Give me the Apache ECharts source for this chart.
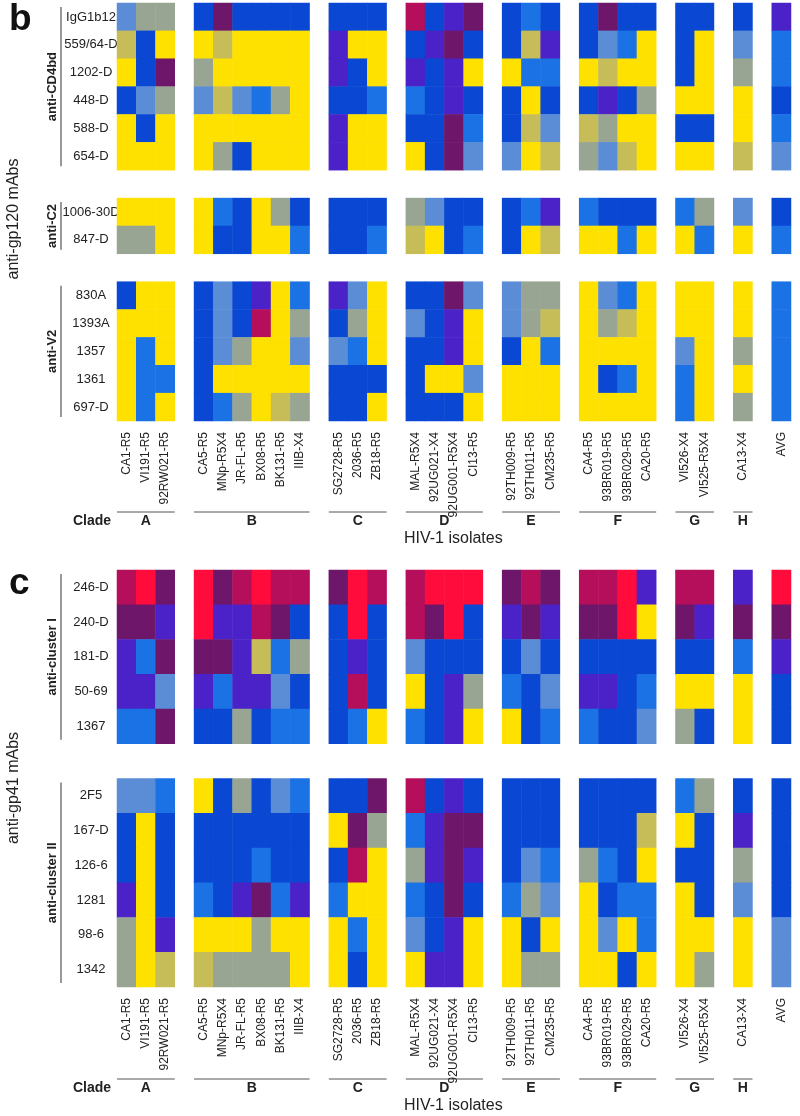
<!DOCTYPE html>
<html>
<head>
<meta charset="utf-8">
<script src="https://cdn.jsdelivr.net/npm/echarts@6/dist/echarts.min.js"></script>
<style>
html, body { margin: 0; padding: 0; background: #fff; }
#chart { width: 800px; height: 1116px; }
</style>
</head>
<body>
<div id="chart"></div>
<script>
// isolates, grouped by clade (last group is the average column)
var clades = ['A', 'B', 'C', 'D', 'E', 'F', 'G', 'H', ''];
var isolates = [
    ['CA1-R5', 'VI191-R5', '92RW021-R5'],
    ['CA5-R5', 'MNp-R5X4', 'JR-FL-R5', 'BX08-R5', 'BK131-R5', 'IIIB-X4'],
    ['SG2728-R5', '2036-R5', 'ZB18-R5'],
    ['MAL-R5X4', '92UG021-X4', '92UG001-R5X4', 'CI13-R5'],
    ['92TH009-R5', '92TH011-R5', 'CM235-R5'],
    ['CA4-R5', '93BR019-R5', '93BR029-R5', 'CA20-R5'],
    ['VI526-X4', 'VI525-R5X4'],
    ['CA13-X4'],
    ['AVG']
];

// neutralization level per cell: 0 = none (yellow) ... 9 = strongest (red)
var levelColors = ['#ffe100', '#c6bc58', '#98a592', '#5a8dd6', '#1a72e4',
                   '#0a47d2', '#4a22c8', '#6e176a', '#b50e5a', '#ff0c3c'];

// panel b : anti-gp120 mAbs
var cd4bdRows = ['IgG1b12', '559/64-D', '1202-D', '448-D', '588-D', '654-D'];
var cd4bdVals = [
    [3,2,2, 5,7,5,5,5,5, 5,5,5, 8,5,6,7, 5,4,5, 5,7,5,5, 5,5, 5, 6],
    [1,5,0, 0,1,0,0,0,0, 6,0,0, 5,6,7,5, 5,1,6, 5,3,4,0, 5,0, 3, 4],
    [0,5,7, 2,0,0,0,0,0, 6,5,0, 6,5,6,0, 0,4,4, 0,1,0,0, 5,0, 2, 4],
    [5,3,2, 3,1,3,4,2,0, 5,5,4, 4,5,6,5, 5,0,5, 5,6,5,2, 0,0, 0, 5],
    [0,5,0, 0,0,0,0,0,0, 6,0,0, 5,5,7,4, 5,1,3, 1,2,0,0, 5,5, 0, 4],
    [0,0,0, 0,2,5,0,0,0, 6,0,0, 0,5,7,3, 3,0,1, 2,3,1,0, 0,0, 1, 3]
];
var c2Rows = ['1006-30D', '847-D'];
var c2Vals = [
    [0,0,0, 0,4,5,0,2,5, 5,5,5, 2,3,5,5, 5,4,6, 4,5,5,5, 4,2, 3, 5],
    [2,2,0, 0,5,5,0,0,4, 5,5,4, 1,0,5,4, 5,0,1, 0,0,4,0, 0,4, 0, 4]
];
var v2Rows = ['830A', '1393A', '1357', '1361', '697-D'];
var v2Vals = [
    [5,0,0, 5,3,5,6,0,4, 6,3,0, 5,5,7,3, 3,2,2, 0,3,4,0, 0,0, 0, 4],
    [0,0,0, 5,3,5,8,0,2, 5,2,0, 3,5,6,0, 3,2,1, 0,2,1,0, 0,0, 0, 4],
    [0,4,0, 5,3,2,0,0,3, 3,4,0, 5,5,6,0, 5,0,4, 0,0,0,0, 3,0, 2, 4],
    [0,4,4, 5,0,0,0,0,0, 5,5,5, 5,0,0,3, 0,0,0, 0,5,4,0, 4,0, 0, 4],
    [0,4,0, 5,4,2,0,1,2, 5,5,0, 5,5,5,0, 0,0,0, 0,0,0,0, 4,0, 2, 4]
];

// panel c : anti-gp41 mAbs
var cl1Rows = ['246-D', '240-D', '181-D', '50-69', '1367'];
var cl1Vals = [
    [8,9,7, 9,7,8,9,8,8, 7,9,8, 8,9,9,9, 7,8,7, 8,8,9,6, 8,8, 6, 9],
    [7,7,6, 9,6,6,8,7,5, 5,9,5, 8,7,9,5, 6,7,6, 7,7,9,0, 7,6, 7, 7],
    [6,4,7, 7,7,6,1,4,2, 5,6,5, 3,5,5,5, 5,3,5, 5,5,5,5, 5,5, 4, 6],
    [6,6,3, 6,4,6,6,3,5, 5,8,5, 0,5,6,2, 4,5,3, 6,6,5,4, 0,0, 0, 5],
    [4,4,7, 5,5,2,5,4,4, 5,4,0, 4,5,6,0, 0,5,4, 4,5,5,3, 2,5, 0, 5]
];
var cl2Rows = ['2F5', '167-D', '126-6', '1281', '98-6', '1342'];
var cl2Vals = [
    [3,3,4, 0,5,2,5,3,4, 5,5,7, 8,5,6,5, 5,5,5, 5,5,5,5, 4,2, 5, 5],
    [5,0,5, 5,5,5,5,5,5, 0,7,2, 4,6,7,7, 5,5,5, 5,5,5,1, 0,5, 6, 5],
    [5,0,5, 5,5,5,4,5,5, 5,8,0, 2,6,7,6, 5,3,4, 2,4,5,0, 5,5, 2, 5],
    [6,0,5, 4,5,6,7,4,6, 4,0,0, 4,5,7,5, 4,2,3, 0,5,4,4, 0,5, 3, 5],
    [2,0,6, 0,0,0,2,0,0, 0,4,0, 3,5,6,0, 0,5,0, 0,3,0,4, 0,0, 0, 3],
    [2,0,1, 1,2,2,2,2,0, 0,5,0, 0,6,6,0, 0,2,2, 0,0,5,0, 0,2, 0, 3]
];

var FONT = '"Liberation Sans", Arial, sans-serif';

// x categories with a blank spacer between clades
var xCats = [];
var colPos = [];      // category index of each data column
var cladeSpan = [];   // first / last category index of each clade
isolates.forEach(function (grp, g) {
    if (g > 0) xCats.push('');
    var first = xCats.length;
    grp.forEach(function (name) {
        colPos.push(xCats.length);
        xCats.push(name);
    });
    cladeSpan.push([first, xCats.length - 1]);
});

// y categories with a blank spacer between antibody groups
function buildPanel(groups) {
    var cats = [], data = [], spans = [];
    groups.forEach(function (g, gi) {
        if (gi > 0) cats.push('');
        var first = cats.length;
        g.rows.forEach(function (name, r) {
            var y = cats.length;
            cats.push(name);
            g.vals[r].forEach(function (v, c) {
                data.push([colPos[c], y, v]);
            });
        });
        spans.push({ label: g.label, from: first, to: cats.length - 1 });
    });
    return { cats: cats, data: data, spans: spans };
}

var panelB = buildPanel([
    { label: 'anti-CD4bd', rows: cd4bdRows, vals: cd4bdVals },
    { label: 'anti-C2', rows: c2Rows, vals: c2Vals },
    { label: 'anti-V2', rows: v2Rows, vals: v2Vals }
]);
var panelC = buildPanel([
    { label: 'anti-cluster I', rows: cl1Rows, vals: cl1Vals },
    { label: 'anti-cluster II', rows: cl2Rows, vals: cl2Vals }
]);

function xAxisFor(i) {
    return {
        type: 'category', gridIndex: i, data: xCats,
        axisLine: { show: false }, axisTick: { show: false }, splitLine: { show: false },
        axisLabel: { rotate: 90, interval: 0, margin: 11, fontSize: 12, color: '#222', fontFamily: FONT }
    };
}
function yAxisFor(i, cats) {
    return {
        type: 'category', gridIndex: i, data: cats, inverse: true,
        axisLine: { show: false }, axisTick: { show: false }, splitLine: { show: false },
        axisLabel: { interval: 0, align: 'center', margin: 26, fontSize: 13, color: '#222', fontFamily: FONT }
    };
}

var myChart = echarts.init(document.getElementById('chart'));

var option = {
    backgroundColor: '#fff',
    animation: false,
    grid: [
        { left: 117, right: 9, top: 3, height: 418 },
        { left: 117, right: 9, top: 570, height: 417 }
    ],
    xAxis: [xAxisFor(0), xAxisFor(1)],
    yAxis: [yAxisFor(0, panelB.cats), yAxisFor(1, panelC.cats)],
    visualMap: {
        type: 'piecewise', show: false, dimension: 2, seriesIndex: [0, 1],
        pieces: levelColors.map(function (c, i) { return { value: i, color: c }; })
    },
    series: [
        { type: 'heatmap', xAxisIndex: 0, yAxisIndex: 0, data: panelB.data,
          itemStyle: { borderWidth: 0 }, emphasis: { disabled: true } },
        { type: 'heatmap', xAxisIndex: 1, yAxisIndex: 1, data: panelC.data,
          itemStyle: { borderWidth: 0 }, emphasis: { disabled: true } }
    ]
};
myChart.setOption(option);

// annotations placed from the axes' own pixel positions
function px(gi, x, y) {
    return myChart.convertToPixel({ xAxisIndex: gi, yAxisIndex: gi }, [x, y]);
}
var graphics = [];
function addPanelDecor(gi, panel, letter, letterY, title, titleY, cladeLineY) {
    var rowH = px(gi, 0, 1)[1] - px(gi, 0, 0)[1];
    var colW = px(gi, 1, 0)[0] - px(gi, 0, 0)[0];

    graphics.push({ type: 'text', x: 9, y: letterY,
        style: { text: letter, font: 'bold 37px ' + FONT, fill: '#111', textVerticalAlign: 'middle' } });

    graphics.push({ type: 'text', x: 14, y: titleY, rotation: Math.PI / 2,
        style: { text: title, font: '16px ' + FONT, fill: '#222', textAlign: 'center', textVerticalAlign: 'middle' } });

    panel.spans.forEach(function (s) {
        var y0 = px(gi, 0, s.from)[1] - rowH / 2 + 4;
        var y1 = px(gi, 0, s.to)[1] + rowH / 2 - 4;
        graphics.push({ type: 'line', shape: { x1: 61, y1: y0, x2: 61, y2: y1 },
            style: { stroke: '#777', lineWidth: 1.5 } });
        graphics.push({ type: 'text', x: 52, y: (y0 + y1) / 2, rotation: Math.PI / 2,
            style: { text: s.label, font: 'bold 13px ' + FONT, fill: '#222', textAlign: 'center', textVerticalAlign: 'middle' } });
    });

    graphics.push({ type: 'text', x: 92, y: cladeLineY + 9,
        style: { text: 'Clade', font: 'bold 14px ' + FONT, fill: '#222', textAlign: 'center', textVerticalAlign: 'middle' } });
    cladeSpan.forEach(function (sp, i) {
        if (!clades[i]) return;
        var xa = px(gi, sp[0], 0)[0] - colW / 2;
        var xb = px(gi, sp[1], 0)[0] + colW / 2;
        graphics.push({ type: 'line', shape: { x1: xa, y1: cladeLineY, x2: xb, y2: cladeLineY },
            style: { stroke: '#555', lineWidth: 1 } });
        graphics.push({ type: 'text', x: (xa + xb) / 2, y: cladeLineY + 9,
            style: { text: clades[i], font: 'bold 14px ' + FONT, fill: '#222', textAlign: 'center', textVerticalAlign: 'middle' } });
    });

    graphics.push({ type: 'text', x: 404, y: cladeLineY + 27,
        style: { text: 'HIV-1 isolates', font: '16px ' + FONT, fill: '#222', textVerticalAlign: 'middle' } });
}
addPanelDecor(0, panelB, 'b', 20, 'anti-gp120 mAbs', 219, 512);
addPanelDecor(1, panelC, 'c', 584, 'anti-gp41 mAbs', 788, 1079);

myChart.setOption({ graphic: graphics });
</script>
</body>
</html>
